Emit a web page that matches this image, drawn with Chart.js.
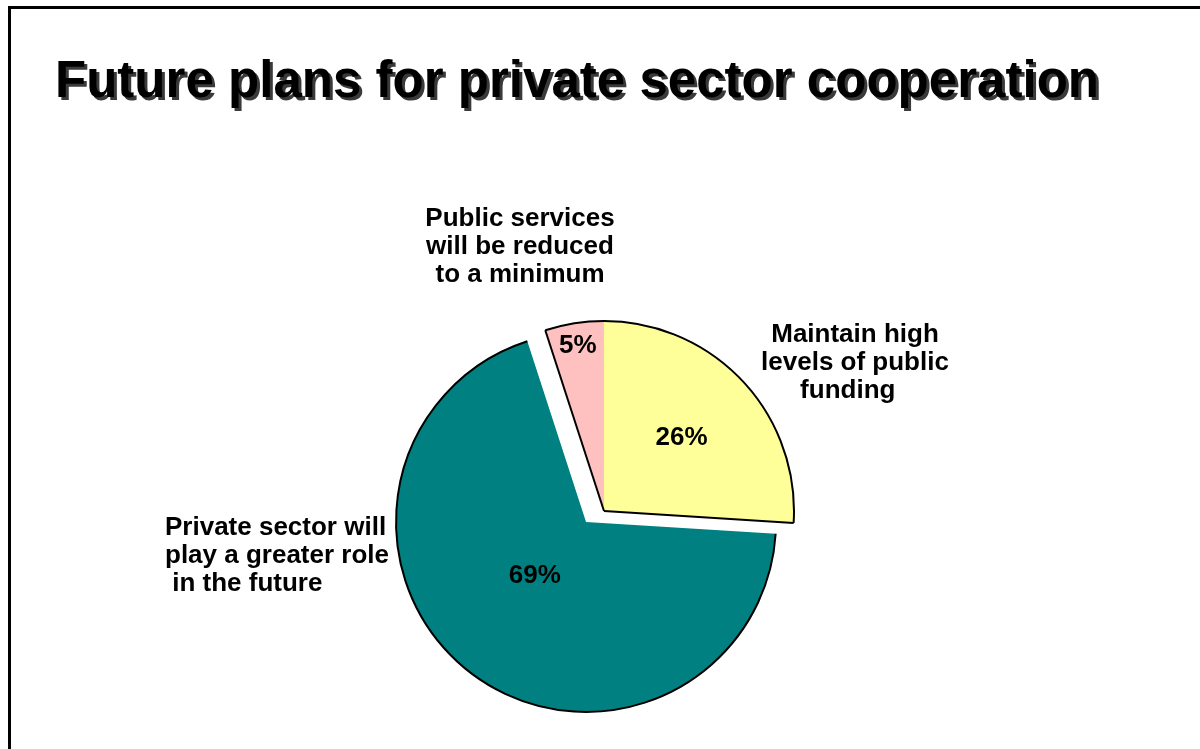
<!DOCTYPE html>
<html>
<head>
<meta charset="utf-8">
<script src="https://cdn.jsdelivr.net/npm/chart.js@4.4.1/dist/chart.umd.min.js"></script>
<style>
html, body { margin: 0; padding: 0; background: #ffffff; }
body { width: 1200px; height: 749px; position: relative; overflow: hidden;
       font-family: "Liberation Sans", Arial, sans-serif; }
#frame { position: absolute; left: 8px; top: 6px; width: 1300px; height: 900px;
         border-left: 3px solid #000; border-top: 3px solid #000; }
#chart { position: absolute; left: 0; top: 0; }
.t { position: absolute; font-weight: bold; color: #000; white-space: pre; }
#title { left: 55px; font-size: 51px; line-height: 51px; text-shadow: 3px 3px 0 #3a3a3a; }
.lbl { font-size: 26px; line-height: 28px; }
</style>
</head>
<body>
<div id="frame"></div>
<canvas id="chart" width="1200" height="749"></canvas>
<div id="title" class="t"></div>

<script>
// ---------------- data ----------------
const titleText = "Future plans for private sector cooperation";
const categories = [
  ["Maintain high", "levels of public", "funding  "],
  ["Private sector will", "play a greater role", " in the future"],
  ["Public services", "will be reduced", "to a minimum"]
];
const shares = [26, 69, 5];
const pctLabels = ["26%", "69%", "5%"];

// ---------------- styles ----------------
const sliceColors = ["#FFFF99", "#008080", "#FFC0C0"];
const EXPLODE = { index: 1, distance: 21, turnDeg: 21 };     // teal slice pulled out
const PCT_RADIUS = [0.56, 0.39, 0.88];                        // label distance (fraction of radius)
const PCT_TURN = [0, 6, 0];                                   // small angular nudge (deg)
const CAT_BOX = [                                             // category text placement
  { x: 855, top: 319, align: "center" },
  { x: 165, top: 512, align: "left" },
  { x: 520, top: 203, align: "center" }
];

// title
const titleEl = document.getElementById("title");
titleEl.textContent = titleText;
(function fitTitle() {
  const c = document.createElement("canvas").getContext("2d");
  c.font = 'bold 51px "Liberation Sans"';
  const w = c.measureText(titleText).width;
  const target = 1044;
  const ls = (target - w) / (titleText.length - 1);
  titleEl.style.letterSpacing = ls + "px";
  titleEl.style.top = (97 - 0.8465 * 51) + "px";
})();

// category labels
categories.forEach((lines, i) => {
  const d = document.createElement("div");
  d.className = "t lbl";
  d.textContent = lines.join("\n");
  d.style.top = CAT_BOX[i].top + "px";
  d.style.textAlign = CAT_BOX[i].align;
  d.style.left = CAT_BOX[i].x + "px";
  if (CAT_BOX[i].align === "center") d.style.transform = "translateX(-50%)";
  document.body.appendChild(d);
});

function shiftOf(arc, i) {
  if (i !== EXPLODE.index) return { dx: 0, dy: 0 };
  const p = arc.getProps(["startAngle", "endAngle"], true);
  const a = (p.startAngle + p.endAngle) / 2 + EXPLODE.turnDeg * Math.PI / 180;
  return { dx: Math.cos(a) * EXPLODE.distance, dy: Math.sin(a) * EXPLODE.distance };
}

const pieArt = {
  id: "pieArt",
  beforeDatasetDraw(chart, args) {
    const ctx = chart.ctx;
    const arcs = args.meta.data;
    const n = arcs.length;
    // fills
    arcs.forEach((arc, i) => {
      const s = shiftOf(arc, i);
      ctx.save();
      ctx.translate(s.dx, s.dy);
      arc.draw(ctx);
      ctx.restore();
    });
    // outlines
    ctx.save();
    ctx.strokeStyle = "#000";
    ctx.lineWidth = 2;
    ctx.lineJoin = "round";
    arcs.forEach((arc, i) => {
      const p = arc.getProps(["x", "y", "startAngle", "endAngle", "outerRadius"], true);
      const s = shiftOf(arc, i);
      const cx = p.x + s.dx, cy = p.y + s.dy, r = p.outerRadius;
      ctx.beginPath();
      ctx.arc(cx, cy, r, p.startAngle, p.endAngle);
      ctx.stroke();
      if (i !== EXPLODE.index) {
        const prev = (i - 1 + n) % n, next = (i + 1) % n;
        if (prev === EXPLODE.index) {
          ctx.beginPath();
          ctx.moveTo(cx, cy);
          ctx.lineTo(cx + Math.cos(p.startAngle) * r, cy + Math.sin(p.startAngle) * r);
          ctx.stroke();
        }
        if (next === EXPLODE.index) {
          ctx.beginPath();
          ctx.moveTo(cx, cy);
          ctx.lineTo(cx + Math.cos(p.endAngle) * r, cy + Math.sin(p.endAngle) * r);
          ctx.stroke();
        }
      }
    });
    ctx.restore();
    // percentage labels
    ctx.save();
    ctx.fillStyle = "#000";
    ctx.font = 'bold 26px "Liberation Sans", Arial, sans-serif';
    ctx.textAlign = "center";
    ctx.textBaseline = "middle";
    arcs.forEach((arc, i) => {
      const p = arc.getProps(["x", "y", "startAngle", "endAngle", "outerRadius"], true);
      const s = shiftOf(arc, i);
      const mid = (p.startAngle + p.endAngle) / 2 + PCT_TURN[i] * Math.PI / 180;
      const rr = p.outerRadius * PCT_RADIUS[i];
      ctx.fillText(pctLabels[i], p.x + s.dx + Math.cos(mid) * rr, p.y + s.dy + Math.sin(mid) * rr);
    });
    ctx.restore();
    return false;
  }
};

new Chart(document.getElementById("chart"), {
  type: "pie",
  data: {
    labels: categories.map(l => l.join(" ").trim()),
    datasets: [{
      data: shares,
      backgroundColor: sliceColors,
      borderWidth: 0
    }]
  },
  options: {
    responsive: false,
    animation: false,
    devicePixelRatio: 1,
    radius: 190,
    layout: { padding: { left: 394, right: 386, top: 301, bottom: 28 } },
    plugins: { legend: { display: false }, tooltip: { enabled: false } }
  },
  plugins: [pieArt]
});
</script>
</body>
</html>
